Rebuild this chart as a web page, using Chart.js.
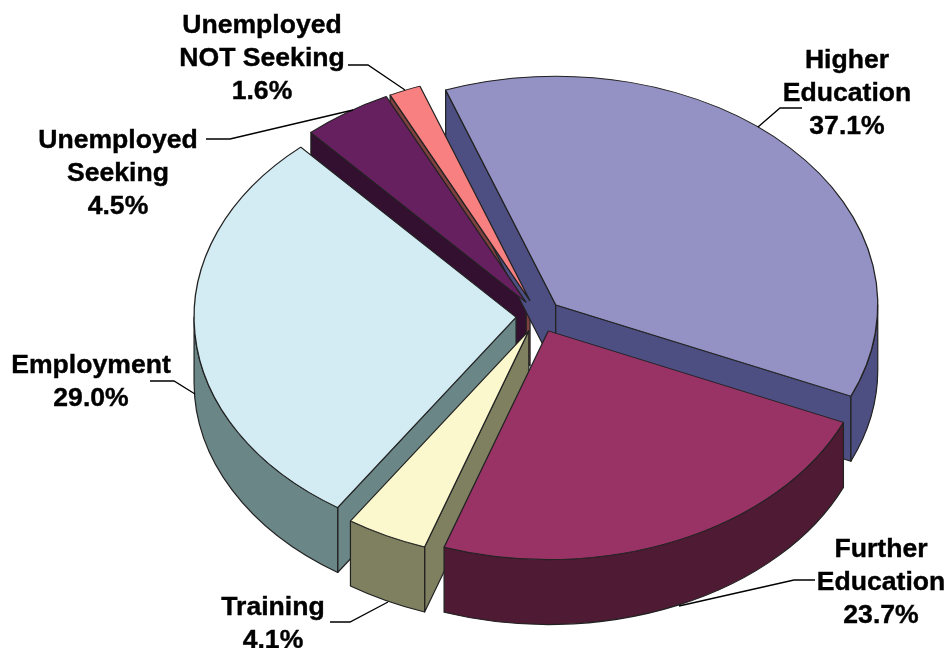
<!DOCTYPE html>
<html>
<head>
<meta charset="utf-8">
<title>Destinations</title>
<script src="https://cdn.jsdelivr.net/npm/chart.js@4"></script>
<style>
  html, body { margin: 0; background: #fff; }
  canvas { display: block; }
</style>
</head>
<body>
<canvas id="myChart" width="950" height="648"></canvas>
<script>
// Data
const categories = [
  ['Higher', 'Education'],
  ['Further', 'Education'],
  ['Training'],
  ['Employment'],
  ['Unemployed', 'Seeking'],
  ['Unemployed', 'NOT Seeking'],
];
const shares = [37.1, 23.7, 4.1, 29.0, 4.5, 1.6];
const topColors = ['#9492c5', '#993366', '#fbf8cd', '#d3ecf4', '#66205f', '#f98080'];
const sideColors = ['#4d4e82', '#4f1a33', '#7f8060', '#6a8686', '#331030', '#7f4040'];

// Where each label sits and how its leader line runs
const labelX = [847, 881, 273, 91, 118, 262];
const labelY = [68, 557, 615, 373, 148, 33];
const leaders = [
  [[802, 108], [780, 108], [758, 127]],
  [[815, 580], [794, 580], [679, 606]],
  [[330, 622], [350, 622], [388, 602]],
  [[150, 381], [174, 381], [195, 394]],
  [[206, 139], [230, 139], [353, 110]],
  [[348, 65], [368, 65], [405, 90]],
];

const TILT = 0.71;     // vertical squash of the pie
const DEPTH = 65;      // height of the pie walls
const EXPLODE = 23;    // px each slice moves out
const LINE = '#222';

function faceStroke(ctx) {
  ctx.lineWidth = 1.2;
  ctx.strokeStyle = LINE;
  ctx.lineJoin = 'round';
  ctx.fill();
  ctx.stroke();
}

// Draws the visible walls of one slice, using the arc element's own geometry
function drawWalls(ctx, arc, color) {
  const { x, y, outerRadius: r, startAngle: a0, endAngle: a1 } = arc;
  const mid = (a0 + a1) / 2;
  const ax = x + Math.cos(mid) * EXPLODE;
  const ay = y + Math.sin(mid) * EXPLODE * TILT;
  ctx.fillStyle = color;

  const radial = (a) => {
    const ex = ax + Math.cos(a) * r;
    const ey = ay + Math.sin(a) * r * TILT;
    ctx.beginPath();
    ctx.moveTo(ax, ay);
    ctx.lineTo(ex, ey);
    ctx.lineTo(ex, ey + DEPTH);
    ctx.lineTo(ax, ay + DEPTH);
    ctx.closePath();
    faceStroke(ctx);
  };
  if (Math.cos(a0) < 0) radial(a0);
  if (Math.cos(a1) > 0) radial(a1);

  // outer wall: only the part on the front half of the ellipse
  [0, 2 * Math.PI, -2 * Math.PI].forEach((shift) => {
    const from = Math.max(a0, shift);
    const to = Math.min(a1, shift + Math.PI);
    if (to <= from) return;
    ctx.beginPath();
    ctx.ellipse(ax, ay, r, r * TILT, 0, from, to);
    ctx.ellipse(ax, ay + DEPTH, r, r * TILT, 0, to, from, true);
    ctx.closePath();
    faceStroke(ctx);
  });
}

const pie3d = {
  id: 'pie3d',
  beforeDatasetsDraw(chart) {
    const ctx = chart.ctx;
    const arcs = chart.getDatasetMeta(0).data;
    const order = arcs.map((arc, i) => i).sort((a, b) => {
      const sa = Math.sin((arcs[a].startAngle + arcs[a].endAngle) / 2);
      const sb = Math.sin((arcs[b].startAngle + arcs[b].endAngle) / 2);
      return sa - sb;
    });
    ctx.save();
    order.forEach((i) => drawWalls(ctx, arcs[i], sideColors[i]));
    ctx.restore();
  },
  // Arc's own offset option also grows the radius, so move each slice here instead
  beforeDatasetDraw(chart) {
    const ctx = chart.ctx;
    chart.getDatasetMeta(0).data.forEach((arc) => {
      const mid = (arc.startAngle + arc.endAngle) / 2;
      ctx.save();
      ctx.translate(Math.cos(mid) * EXPLODE, arc.y + Math.sin(mid) * EXPLODE * TILT);
      ctx.scale(1, TILT);
      ctx.translate(0, -arc.y);
      arc.draw(ctx);
      ctx.restore();
    });
    return false;
  },
  afterDatasetsDraw(chart) {
    const ctx = chart.ctx;
    ctx.save();
    ctx.strokeStyle = '#000';
    ctx.lineWidth = 1.3;
    leaders.forEach((pts) => {
      ctx.beginPath();
      pts.forEach((p, i) => (i ? ctx.lineTo(p[0], p[1]) : ctx.moveTo(p[0], p[1])));
      ctx.stroke();
    });
    ctx.fillStyle = '#000';
    ctx.lineWidth = 0.4;
    ctx.font = 'bold 26.6px "Liberation Sans", Arial, sans-serif';
    ctx.textAlign = 'center';
    ctx.textBaseline = 'alphabetic';
    categories.forEach((lines, i) => {
      const rows = lines.concat(shares[i].toFixed(1) + '%');
      rows.forEach((row, j) => {
        ctx.fillText(row, labelX[i], labelY[i] + j * 33);
        ctx.strokeText(row, labelX[i], labelY[i] + j * 33);
      });
    });
    ctx.restore();
  },
};

const chart = new Chart(document.getElementById('myChart').getContext('2d'), {
  type: 'pie',
  data: {
    labels: categories.map((c) => c.join(' ')),
    datasets: [{
      data: shares,
      backgroundColor: topColors,
      borderColor: LINE,
      borderWidth: 1.3,
      clip: false,
    }],
  },
  options: {
    responsive: false,
    animation: false,
    rotation: -20,
    radius: 322,
    layout: { padding: { left: 128, bottom: 16 } },
    plugins: { legend: { display: false }, tooltip: { enabled: false } },
  },
  plugins: [pie3d],
});
</script>
</body>
</html>
